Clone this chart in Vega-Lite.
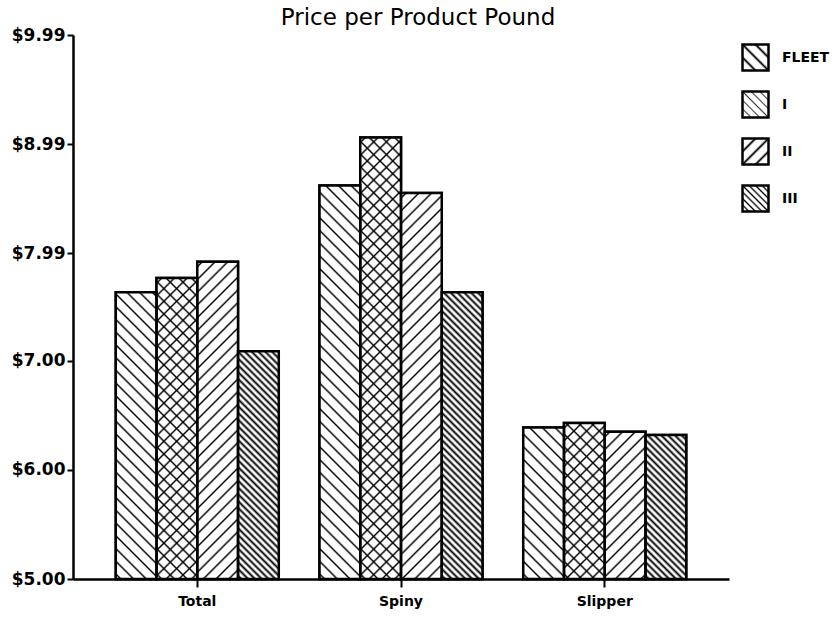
{
  "$schema": "https://vega.github.io/schema/vega-lite/v6.json",
  "width": 656,
  "height": 544,
  "autosize": {"type": "none"},
  "padding": {"left": 73, "top": 35, "right": 104, "bottom": 44},
  "background": "white",
  "config": {"view": {"stroke": null}, "font": "DejaVu Sans"},
  "title": {"text": "Price per Product Pound", "fontSize": 23, "font": "DejaVu Sans", "fontWeight": "normal", "color": "black", "offset": 3, "dy": 7, "dx": 17},
  "params": [
    {"name": "sp", "value": [
      {"offset":0.006,"color":"#0000"},{"offset":0.01,"color":"#000"},{"offset":0.014,"color":"#0000"},
      {"offset":0.031,"color":"#0000"},{"offset":0.035,"color":"#000"},{"offset":0.039,"color":"#0000"},
      {"offset":0.056,"color":"#0000"},{"offset":0.06,"color":"#000"},{"offset":0.064,"color":"#0000"},
      {"offset":0.081,"color":"#0000"},{"offset":0.085,"color":"#000"},{"offset":0.089,"color":"#0000"},
      {"offset":0.106,"color":"#0000"},{"offset":0.11,"color":"#000"},{"offset":0.114,"color":"#0000"},
      {"offset":0.131,"color":"#0000"},{"offset":0.135,"color":"#000"},{"offset":0.139,"color":"#0000"},
      {"offset":0.156,"color":"#0000"},{"offset":0.16,"color":"#000"},{"offset":0.164,"color":"#0000"},
      {"offset":0.181,"color":"#0000"},{"offset":0.185,"color":"#000"},{"offset":0.189,"color":"#0000"},
      {"offset":0.206,"color":"#0000"},{"offset":0.21,"color":"#000"},{"offset":0.214,"color":"#0000"},
      {"offset":0.231,"color":"#0000"},{"offset":0.235,"color":"#000"},{"offset":0.239,"color":"#0000"},
      {"offset":0.256,"color":"#0000"},{"offset":0.26,"color":"#000"},{"offset":0.264,"color":"#0000"},
      {"offset":0.281,"color":"#0000"},{"offset":0.285,"color":"#000"},{"offset":0.289,"color":"#0000"},
      {"offset":0.306,"color":"#0000"},{"offset":0.31,"color":"#000"},{"offset":0.314,"color":"#0000"},
      {"offset":0.331,"color":"#0000"},{"offset":0.335,"color":"#000"},{"offset":0.339,"color":"#0000"},
      {"offset":0.356,"color":"#0000"},{"offset":0.36,"color":"#000"},{"offset":0.364,"color":"#0000"},
      {"offset":0.381,"color":"#0000"},{"offset":0.385,"color":"#000"},{"offset":0.389,"color":"#0000"},
      {"offset":0.406,"color":"#0000"},{"offset":0.41,"color":"#000"},{"offset":0.414,"color":"#0000"},
      {"offset":0.431,"color":"#0000"},{"offset":0.435,"color":"#000"},{"offset":0.439,"color":"#0000"},
      {"offset":0.456,"color":"#0000"},{"offset":0.46,"color":"#000"},{"offset":0.464,"color":"#0000"},
      {"offset":0.481,"color":"#0000"},{"offset":0.485,"color":"#000"},{"offset":0.489,"color":"#0000"},
      {"offset":0.506,"color":"#0000"},{"offset":0.51,"color":"#000"},{"offset":0.514,"color":"#0000"},
      {"offset":0.531,"color":"#0000"},{"offset":0.535,"color":"#000"},{"offset":0.539,"color":"#0000"},
      {"offset":0.556,"color":"#0000"},{"offset":0.56,"color":"#000"},{"offset":0.564,"color":"#0000"},
      {"offset":0.581,"color":"#0000"},{"offset":0.585,"color":"#000"},{"offset":0.589,"color":"#0000"},
      {"offset":0.606,"color":"#0000"},{"offset":0.61,"color":"#000"},{"offset":0.614,"color":"#0000"},
      {"offset":0.631,"color":"#0000"},{"offset":0.635,"color":"#000"},{"offset":0.639,"color":"#0000"},
      {"offset":0.656,"color":"#0000"},{"offset":0.66,"color":"#000"},{"offset":0.664,"color":"#0000"},
      {"offset":0.681,"color":"#0000"},{"offset":0.685,"color":"#000"},{"offset":0.689,"color":"#0000"},
      {"offset":0.706,"color":"#0000"},{"offset":0.71,"color":"#000"},{"offset":0.714,"color":"#0000"},
      {"offset":0.731,"color":"#0000"},{"offset":0.735,"color":"#000"},{"offset":0.739,"color":"#0000"},
      {"offset":0.756,"color":"#0000"},{"offset":0.76,"color":"#000"},{"offset":0.764,"color":"#0000"},
      {"offset":0.781,"color":"#0000"},{"offset":0.785,"color":"#000"},{"offset":0.789,"color":"#0000"},
      {"offset":0.806,"color":"#0000"},{"offset":0.81,"color":"#000"},{"offset":0.814,"color":"#0000"},
      {"offset":0.831,"color":"#0000"},{"offset":0.835,"color":"#000"},{"offset":0.839,"color":"#0000"},
      {"offset":0.856,"color":"#0000"},{"offset":0.86,"color":"#000"},{"offset":0.864,"color":"#0000"},
      {"offset":0.881,"color":"#0000"},{"offset":0.885,"color":"#000"},{"offset":0.889,"color":"#0000"},
      {"offset":0.906,"color":"#0000"},{"offset":0.91,"color":"#000"},{"offset":0.914,"color":"#0000"},
      {"offset":0.931,"color":"#0000"},{"offset":0.935,"color":"#000"},{"offset":0.939,"color":"#0000"},
      {"offset":0.956,"color":"#0000"},{"offset":0.96,"color":"#000"},{"offset":0.964,"color":"#0000"},
      {"offset":0.981,"color":"#0000"},{"offset":0.985,"color":"#000"},{"offset":0.989,"color":"#0000"}
    ]},
    {"name": "dn", "value": [
      {"offset":0.002,"color":"#0000"},{"offset":0.01,"color":"#000"},{"offset":0.018,"color":"#0000"},
      {"offset":0.022,"color":"#0000"},{"offset":0.03,"color":"#000"},{"offset":0.038,"color":"#0000"},
      {"offset":0.042,"color":"#0000"},{"offset":0.05,"color":"#000"},{"offset":0.058,"color":"#0000"},
      {"offset":0.062,"color":"#0000"},{"offset":0.07,"color":"#000"},{"offset":0.078,"color":"#0000"},
      {"offset":0.082,"color":"#0000"},{"offset":0.09,"color":"#000"},{"offset":0.098,"color":"#0000"},
      {"offset":0.102,"color":"#0000"},{"offset":0.11,"color":"#000"},{"offset":0.118,"color":"#0000"},
      {"offset":0.122,"color":"#0000"},{"offset":0.13,"color":"#000"},{"offset":0.138,"color":"#0000"},
      {"offset":0.142,"color":"#0000"},{"offset":0.15,"color":"#000"},{"offset":0.158,"color":"#0000"},
      {"offset":0.162,"color":"#0000"},{"offset":0.17,"color":"#000"},{"offset":0.178,"color":"#0000"},
      {"offset":0.182,"color":"#0000"},{"offset":0.19,"color":"#000"},{"offset":0.198,"color":"#0000"},
      {"offset":0.202,"color":"#0000"},{"offset":0.21,"color":"#000"},{"offset":0.218,"color":"#0000"},
      {"offset":0.222,"color":"#0000"},{"offset":0.23,"color":"#000"},{"offset":0.238,"color":"#0000"},
      {"offset":0.242,"color":"#0000"},{"offset":0.25,"color":"#000"},{"offset":0.258,"color":"#0000"},
      {"offset":0.262,"color":"#0000"},{"offset":0.27,"color":"#000"},{"offset":0.278,"color":"#0000"},
      {"offset":0.282,"color":"#0000"},{"offset":0.29,"color":"#000"},{"offset":0.298,"color":"#0000"},
      {"offset":0.302,"color":"#0000"},{"offset":0.31,"color":"#000"},{"offset":0.318,"color":"#0000"},
      {"offset":0.322,"color":"#0000"},{"offset":0.33,"color":"#000"},{"offset":0.338,"color":"#0000"},
      {"offset":0.342,"color":"#0000"},{"offset":0.35,"color":"#000"},{"offset":0.358,"color":"#0000"},
      {"offset":0.362,"color":"#0000"},{"offset":0.37,"color":"#000"},{"offset":0.378,"color":"#0000"},
      {"offset":0.382,"color":"#0000"},{"offset":0.39,"color":"#000"},{"offset":0.398,"color":"#0000"},
      {"offset":0.402,"color":"#0000"},{"offset":0.41,"color":"#000"},{"offset":0.418,"color":"#0000"},
      {"offset":0.422,"color":"#0000"},{"offset":0.43,"color":"#000"},{"offset":0.438,"color":"#0000"},
      {"offset":0.442,"color":"#0000"},{"offset":0.45,"color":"#000"},{"offset":0.458,"color":"#0000"},
      {"offset":0.462,"color":"#0000"},{"offset":0.47,"color":"#000"},{"offset":0.478,"color":"#0000"},
      {"offset":0.482,"color":"#0000"},{"offset":0.49,"color":"#000"},{"offset":0.498,"color":"#0000"},
      {"offset":0.502,"color":"#0000"},{"offset":0.51,"color":"#000"},{"offset":0.518,"color":"#0000"},
      {"offset":0.522,"color":"#0000"},{"offset":0.53,"color":"#000"},{"offset":0.538,"color":"#0000"},
      {"offset":0.542,"color":"#0000"},{"offset":0.55,"color":"#000"},{"offset":0.558,"color":"#0000"},
      {"offset":0.562,"color":"#0000"},{"offset":0.57,"color":"#000"},{"offset":0.578,"color":"#0000"},
      {"offset":0.582,"color":"#0000"},{"offset":0.59,"color":"#000"},{"offset":0.598,"color":"#0000"},
      {"offset":0.602,"color":"#0000"},{"offset":0.61,"color":"#000"},{"offset":0.618,"color":"#0000"},
      {"offset":0.622,"color":"#0000"},{"offset":0.63,"color":"#000"},{"offset":0.638,"color":"#0000"},
      {"offset":0.642,"color":"#0000"},{"offset":0.65,"color":"#000"},{"offset":0.658,"color":"#0000"},
      {"offset":0.662,"color":"#0000"},{"offset":0.67,"color":"#000"},{"offset":0.678,"color":"#0000"},
      {"offset":0.682,"color":"#0000"},{"offset":0.69,"color":"#000"},{"offset":0.698,"color":"#0000"},
      {"offset":0.702,"color":"#0000"},{"offset":0.71,"color":"#000"},{"offset":0.718,"color":"#0000"},
      {"offset":0.722,"color":"#0000"},{"offset":0.73,"color":"#000"},{"offset":0.738,"color":"#0000"},
      {"offset":0.742,"color":"#0000"},{"offset":0.75,"color":"#000"},{"offset":0.758,"color":"#0000"},
      {"offset":0.762,"color":"#0000"},{"offset":0.77,"color":"#000"},{"offset":0.778,"color":"#0000"},
      {"offset":0.782,"color":"#0000"},{"offset":0.79,"color":"#000"},{"offset":0.798,"color":"#0000"},
      {"offset":0.802,"color":"#0000"},{"offset":0.81,"color":"#000"},{"offset":0.818,"color":"#0000"},
      {"offset":0.822,"color":"#0000"},{"offset":0.83,"color":"#000"},{"offset":0.838,"color":"#0000"},
      {"offset":0.842,"color":"#0000"},{"offset":0.85,"color":"#000"},{"offset":0.858,"color":"#0000"},
      {"offset":0.862,"color":"#0000"},{"offset":0.87,"color":"#000"},{"offset":0.878,"color":"#0000"},
      {"offset":0.882,"color":"#0000"},{"offset":0.89,"color":"#000"},{"offset":0.898,"color":"#0000"},
      {"offset":0.902,"color":"#0000"},{"offset":0.91,"color":"#000"},{"offset":0.918,"color":"#0000"},
      {"offset":0.922,"color":"#0000"},{"offset":0.93,"color":"#000"},{"offset":0.938,"color":"#0000"},
      {"offset":0.942,"color":"#0000"},{"offset":0.95,"color":"#000"},{"offset":0.958,"color":"#0000"},
      {"offset":0.962,"color":"#0000"},{"offset":0.97,"color":"#000"},{"offset":0.978,"color":"#0000"},
      {"offset":0.982,"color":"#0000"},{"offset":0.99,"color":"#000"},{"offset":0.998,"color":"#0000"}
    ]},
    {"name": "lgA", "value": [
      {"offset":0,"color":"#fff"},{"offset":0.2,"color":"#fff"},{"offset":0.25,"color":"#000"},{"offset":0.3,"color":"#fff"},
      {"offset":0.45,"color":"#fff"},{"offset":0.5,"color":"#000"},{"offset":0.55,"color":"#fff"},
      {"offset":0.7,"color":"#fff"},{"offset":0.75,"color":"#000"},{"offset":0.8,"color":"#fff"},{"offset":1,"color":"#fff"}
    ]},
    {"name": "lgI", "value": [
      {"offset":0,"color":"#fff"},{"offset":0.137,"color":"#fff"},{"offset":0.167,"color":"#444"},{"offset":0.197,"color":"#fff"},
      {"offset":0.303,"color":"#fff"},{"offset":0.333,"color":"#444"},{"offset":0.363,"color":"#fff"},
      {"offset":0.47,"color":"#fff"},{"offset":0.5,"color":"#444"},{"offset":0.53,"color":"#fff"},
      {"offset":0.637,"color":"#fff"},{"offset":0.667,"color":"#444"},{"offset":0.697,"color":"#fff"},
      {"offset":0.803,"color":"#fff"},{"offset":0.833,"color":"#444"},{"offset":0.863,"color":"#fff"},{"offset":1,"color":"#fff"}
    ]},
    {"name": "lgD", "value": [
      {"offset":0,"color":"#fff"},
      {"offset":0.09,"color":"#fff"},{"offset":0.125,"color":"#000"},{"offset":0.16,"color":"#fff"},
      {"offset":0.215,"color":"#fff"},{"offset":0.25,"color":"#000"},{"offset":0.285,"color":"#fff"},
      {"offset":0.34,"color":"#fff"},{"offset":0.375,"color":"#000"},{"offset":0.41,"color":"#fff"},
      {"offset":0.465,"color":"#fff"},{"offset":0.5,"color":"#000"},{"offset":0.535,"color":"#fff"},
      {"offset":0.59,"color":"#fff"},{"offset":0.625,"color":"#000"},{"offset":0.66,"color":"#fff"},
      {"offset":0.715,"color":"#fff"},{"offset":0.75,"color":"#000"},{"offset":0.785,"color":"#fff"},
      {"offset":0.84,"color":"#fff"},{"offset":0.875,"color":"#000"},{"offset":0.91,"color":"#fff"},
      {"offset":1,"color":"#fff"}
    ]}
  ],
  "data": {"values": [
    {"group": "Total", "series": "FLEET", "price": 7.63},
    {"group": "Total", "series": "I", "price": 7.76},
    {"group": "Total", "series": "II", "price": 7.91},
    {"group": "Total", "series": "III", "price": 7.09},
    {"group": "Spiny", "series": "FLEET", "price": 8.61},
    {"group": "Spiny", "series": "I", "price": 9.05},
    {"group": "Spiny", "series": "II", "price": 8.54},
    {"group": "Spiny", "series": "III", "price": 7.63},
    {"group": "Slipper", "series": "FLEET", "price": 6.39},
    {"group": "Slipper", "series": "I", "price": 6.43},
    {"group": "Slipper", "series": "II", "price": 6.35},
    {"group": "Slipper", "series": "III", "price": 6.32}
  ]},
  "encoding": {
    "x": {
      "field": "group", "type": "nominal", "sort": ["Total", "Spiny", "Slipper"],
      "scale": {"paddingInner": 0.2, "paddingOuter": 0.21},
      "axis": {"title": null, "labelAngle": 0, "labelFont": "DejaVu Sans", "labelFontSize": 14, "labelFontWeight": "bold", "labelColor": "black", "tickColor": "black", "tickSize": 8, "tickWidth": 2, "domainColor": "black", "domainWidth": 2.5, "labelPadding": 7, "grid": false}
    },
    "xOffset": {"field": "series", "type": "nominal", "sort": ["FLEET", "I", "II", "III"], "scale": {"paddingInner": 0, "paddingOuter": 0}},
    "y": {
      "field": "price", "type": "quantitative", "stack": null,
      "scale": {"domain": [5, 9.99], "nice": false, "zero": false},
      "axis": {"title": null, "values": [5, 6, 7, 7.99, 8.99, 9.99], "format": "$.2f", "labelFont": "DejaVu Sans", "labelFontSize": 17, "labelFontWeight": "bold", "labelColor": "black", "tickColor": "black", "tickSize": 6, "tickWidth": 2, "domainColor": "black", "domainWidth": 2.5, "labelPadding": 2, "grid": false}
    },
    "y2": {"datum": 5}
  },
  "layer": [
    {
      "mark": {"type": "bar", "stroke": "black", "strokeWidth": 2.5},
      "encoding": {
        "fill": {
          "field": "series", "type": "nominal", "sort": ["FLEET", "I", "II", "III"],
          "scale": {"range": [
            {"expr": "{gradient:'linear',x1:0,y1:1,x2:1,y2:0,stops:lgA}"},
            {"expr": "{gradient:'linear',x1:0,y1:1,x2:1,y2:0,stops:lgI}"},
            {"expr": "{gradient:'linear',x1:0,y1:0,x2:1,y2:1,stops:lgA}"},
            {"expr": "{gradient:'linear',x1:0,y1:1,x2:1,y2:0,stops:lgD}"}
          ]},
          "legend": {
            "title": null, "orient": "none", "legendX": 668, "legendY": 8,
            "symbolType": "square", "symbolSize": 676, "symbolStrokeColor": "black", "symbolStrokeWidth": 2.5,
            "labelFont": "DejaVu Sans", "labelFontSize": 14, "labelFontWeight": "bold", "labelColor": "black",
            "labelOffset": 12, "rowPadding": 10, "padding": 0
          }
        }
      }
    },
    {
      "mark": {"type": "bar", "fill": "white", "strokeWidth": 0}
    },
    {
      "mark": {"type": "bar", "strokeWidth": 0, "fill": {"expr": "datum.series == 'II' ? {gradient:'linear', x1:0, y1:0, x2: 509.1*40.75/(1660.6+pow((datum.price-5)*109.02,2)), y2: 509.1*(datum.price-5)*109.02/(1660.6+pow((datum.price-5)*109.02,2)), stops: sp} : {gradient:'linear', x1:0, y1:1, x2: (datum.series=='III'?339.4:509.1)*40.75/(1660.6+pow((datum.price-5)*109.02,2)), y2: 1-(datum.series=='III'?339.4:509.1)*(datum.price-5)*109.02/(1660.6+pow((datum.price-5)*109.02,2)), stops: datum.series=='III'?dn:sp}"}}
    },
    {
      "transform": [{"filter": "datum.series == 'I'"}],
      "mark": {"type": "bar", "strokeWidth": 0, "fill": {"expr": "{gradient:'linear', x1:0, y1:0, x2: 509.1*40.75/(1660.6+pow((datum.price-5)*109.02,2)), y2: 509.1*(datum.price-5)*109.02/(1660.6+pow((datum.price-5)*109.02,2)), stops: sp}"}}
    },
    {
      "mark": {"type": "bar", "fill": "white", "fillOpacity": 0, "stroke": "black", "strokeWidth": 2.5}
    }
  ]
}
